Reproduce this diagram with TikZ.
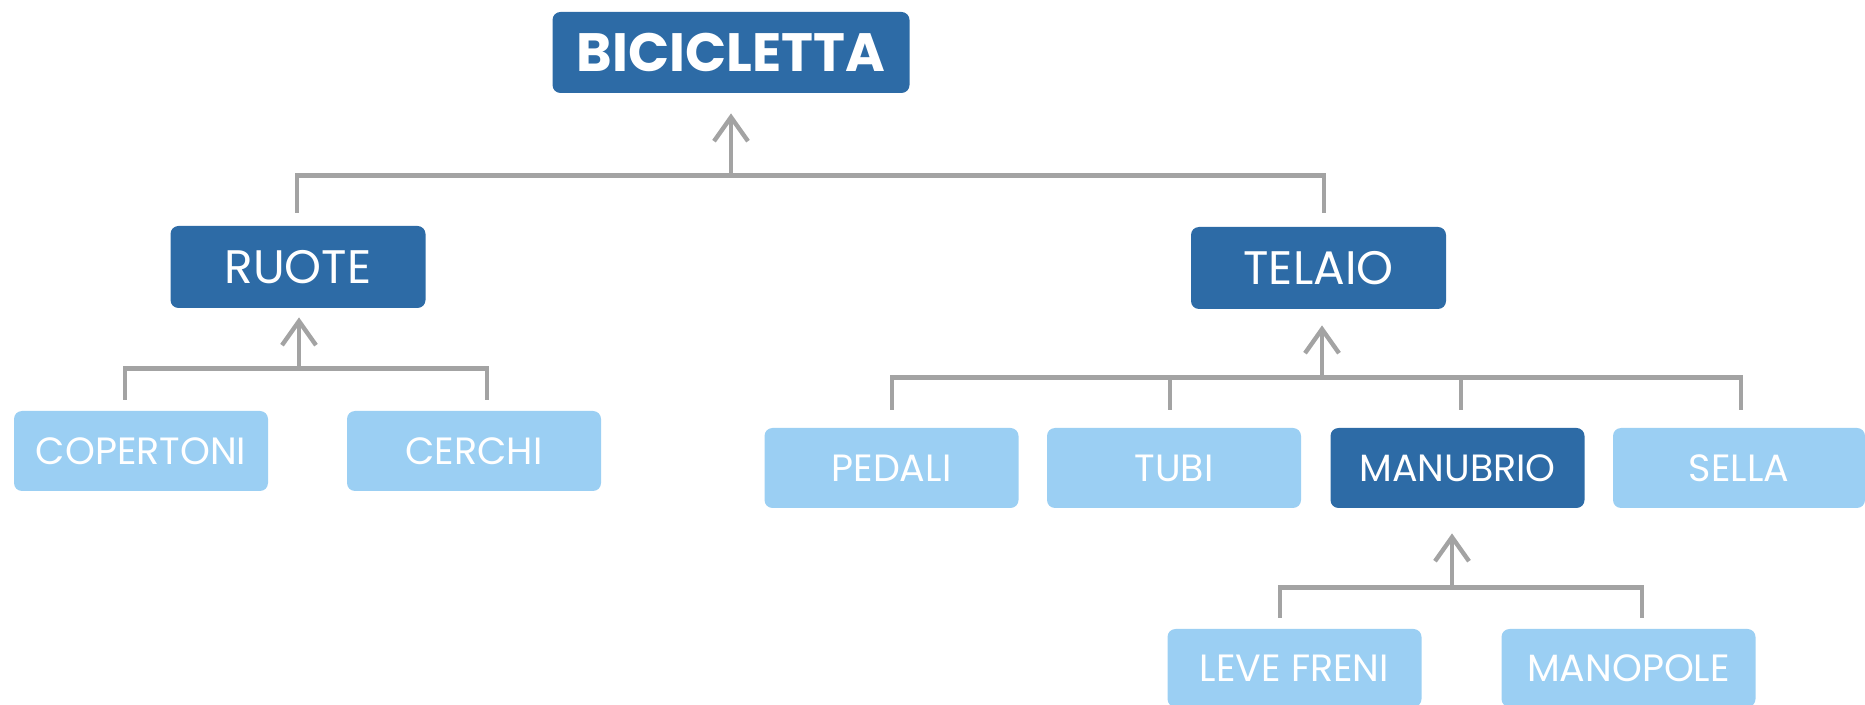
\documentclass[tikz,border=0pt]{standalone}
\usepackage{fontspec}
\setmainfont{Poppins}
\usetikzlibrary{arrows.meta,calc}
\definecolor{darkblue}{HTML}{2D6BA6}
\definecolor{lightblue}{HTML}{9BCFF3}
\definecolor{linegray}{HTML}{A3A3A3}
\tikzset{
  box/.style={rounded corners=4pt, text=white, inner sep=0pt, anchor=center},
  topbox/.style={box, fill=darkblue, minimum width=178.5pt, minimum height=40.5pt, font=\fontsize{27}{30}\selectfont\bfseries},
  midbox/.style={box, fill=darkblue, minimum width=127.5pt, minimum height=41pt, font=\fontsize{23.5}{26}\selectfont},
  leafbox/.style={box, fill=lightblue, minimum width=127pt, minimum height=40pt, font=\fontsize{19}{22}\selectfont},
  darkleaf/.style={box, fill=darkblue, minimum width=127pt, minimum height=40pt, font=\fontsize{19}{22}\selectfont},
  bar/.style={draw=linegray, line width=2.4pt},
  up/.style={draw=linegray, line width=2.2pt, -{Straight Barb[length=12pt,width=17pt,line width=2.2pt]}}
}
\begin{document}
\begin{tikzpicture}[x=0.5pt,y=-0.5pt]
\useasboundingbox (0,0) rectangle (1865,705);
% nodes
\node[topbox] (bic) at (731,52.5) {BICICLETTA};
\node[midbox] (ruote) at (298,267) {RUOTE};
\node[midbox] (telaio) at (1318.5,268) {TELAIO};
\node[leafbox] (cop) at (141,451) {COPERTONI};
\node[leafbox] (cer) at (474,451) {CERCHI};
\node[leafbox] (ped) at (891.5,468) {PEDALI};
\node[leafbox] (tubi) at (1174,468) {TUBI};
\node[darkleaf] (manu) at (1457.5,468) {MANUBRIO};
\node[leafbox, minimum width=126pt] (sella) at (1739,468) {SELLA};
\node[leafbox, minimum height=39pt] (leve) at (1294.5,668) {LEVE FRENI};
\node[leafbox, minimum height=39pt] (mano) at (1628.5,668) {MANOPOLE};
% bicicletta group
\coordinate (jB) at ($(bic.south)+(0,82)$);
\draw[up] (jB) -- ($(bic.south)+(0,20)$);
\draw[bar] ($(ruote.north)+(-1,-13)$) |- (jB) -| ($(telaio.north)+(5.5,-14)$);
% ruote group
\coordinate (jR) at ($(ruote.south)+(1,60)$);
\draw[up] (jR) -- ($(ruote.south)+(1,9)$);
\draw[bar] ($(cop.north)+(-16,-11)$) |- (jR) -| ($(cer.north)+(13,-11)$);
% telaio group
\coordinate (jT) at ($(telaio.south)+(3.5,68)$);
\draw[up] (jT) -- ($(telaio.south)+(3.5,16)$);
\draw[bar] ($(ped.north)+(0.5,-18)$) |- (jT) -| ($(sella.north)+(2,-18)$);
\coordinate (tT) at ($(tubi.north)+(-4,-18)$);
\coordinate (mT) at ($(manu.north)+(3.5,-18)$);
\draw[bar] (tT) -- (tT |- jT);
\draw[bar] (mT) -- (mT |- jT);
% manubrio group
\coordinate (jM) at ($(manu.south)+(-5.5,79)$);
\draw[up] (jM) -- ($(manu.south)+(-5.5,25)$);
\draw[bar] ($(leve.north)+(-14.5,-11)$) |- (jM) -| ($(mano.north)+(13.5,-11)$);
\end{tikzpicture}
\end{document}
